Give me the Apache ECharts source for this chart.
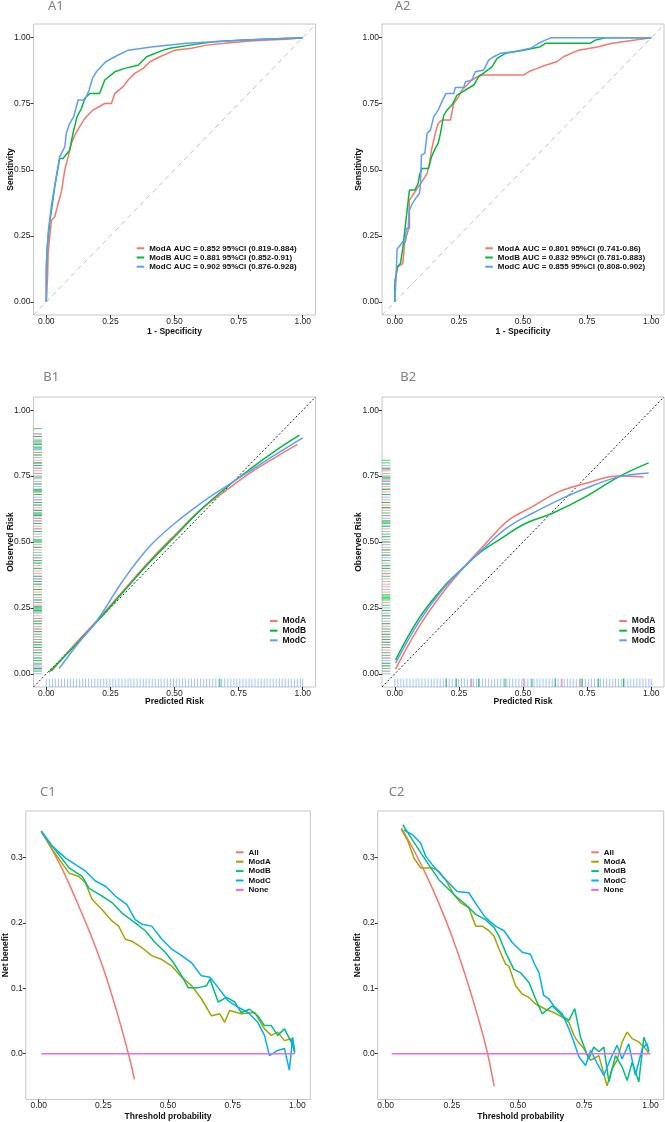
<!DOCTYPE html>
<html>
<head>
<meta charset="utf-8">
<script src="https://cdn.jsdelivr.net/npm/echarts@6/dist/echarts.min.js"></script>
<style>
  html, body { margin: 0; padding: 0; background: #fff; }
  #main { width: 665px; height: 1122px; }
</style>
</head>
<body>
<div id="main"></div>
<script>
// ---- 数据：ROC 曲线 [1-特异度, 灵敏度] ----
var A1_MODA = [[0,0],[0.005,0.1],[0.007,0.183],[0.020,0.309],[0.033,0.322],[0.046,0.372],[0.059,0.417],[0.072,0.499],[0.085,0.549],[0.098,0.600],[0.111,0.631],[0.130,0.663],[0.150,0.694],[0.182,0.726],[0.228,0.751],[0.254,0.751],[0.267,0.789],[0.299,0.814],[0.319,0.840],[0.345,0.865],[0.378,0.884],[0.404,0.909],[0.443,0.928],[0.501,0.953],[0.566,0.960],[0.625,0.972],[0.716,0.981],[0.807,0.989],[0.951,0.995],[1,1]];
var A1_MODB = [[0,0],[0,0.107],[0.003,0.202],[0.013,0.299],[0.033,0.436],[0.052,0.543],[0.065,0.543],[0.091,0.574],[0.098,0.574],[0.104,0.638],[0.120,0.701],[0.137,0.732],[0.150,0.770],[0.169,0.789],[0.208,0.789],[0.228,0.840],[0.267,0.871],[0.306,0.884],[0.358,0.896],[0.391,0.928],[0.456,0.953],[0.482,0.960],[0.560,0.972],[0.651,0.985],[0.768,0.991],[1,1]];
var A1_MODC = [[0,0],[0,0.145],[0.007,0.259],[0.020,0.366],[0.033,0.442],[0.052,0.549],[0.072,0.587],[0.078,0.638],[0.091,0.675],[0.107,0.701],[0.124,0.764],[0.150,0.764],[0.167,0.802],[0.180,0.846],[0.195,0.871],[0.232,0.909],[0.267,0.928],[0.319,0.953],[0.417,0.966],[0.547,0.979],[0.781,0.991],[1,1]];

var A2_MODA = [[0,0],[0,0.082],[0.013,0.133],[0.031,0.145],[0.039,0.227],[0.052,0.271],[0.057,0.385],[0.074,0.410],[0.106,0.455],[0.126,0.486],[0.135,0.524],[0.143,0.574],[0.158,0.638],[0.169,0.675],[0.184,0.688],[0.217,0.688],[0.23,0.751],[0.249,0.777],[0.262,0.802],[0.301,0.840],[0.334,0.859],[0.431,0.859],[0.503,0.859],[0.522,0.871],[0.555,0.884],[0.587,0.896],[0.632,0.909],[0.658,0.928],[0.717,0.953],[0.795,0.966],[0.847,0.979],[0.938,0.991],[1,1]];
var A2_MODB = [[0,0],[0,0.057],[0.009,0.133],[0.022,0.145],[0.031,0.202],[0.039,0.271],[0.057,0.423],[0.078,0.423],[0.091,0.448],[0.096,0.480],[0.106,0.505],[0.132,0.505],[0.143,0.549],[0.158,0.581],[0.169,0.600],[0.178,0.638],[0.191,0.707],[0.204,0.726],[0.223,0.745],[0.243,0.783],[0.275,0.802],[0.308,0.821],[0.327,0.852],[0.353,0.871],[0.379,0.890],[0.399,0.922],[0.431,0.941],[0.503,0.953],[0.568,0.966],[0.587,0.979],[0.762,0.979],[0.782,0.991],[0.821,1.0],[1,1]];
var A2_MODC = [[0,0],[0.003,0.057],[0.009,0.2],[0.022,0.215],[0.029,0.227],[0.042,0.227],[0.044,0.278],[0.057,0.278],[0.057,0.347],[0.068,0.372],[0.081,0.391],[0.096,0.41],[0.1,0.442],[0.104,0.556],[0.117,0.562],[0.126,0.638],[0.139,0.650],[0.152,0.701],[0.169,0.726],[0.184,0.758],[0.2,0.789],[0.23,0.789],[0.236,0.812],[0.269,0.812],[0.275,0.833],[0.301,0.840],[0.314,0.871],[0.347,0.878],[0.366,0.915],[0.386,0.928],[0.412,0.941],[0.464,0.947],[0.529,0.960],[0.561,0.979],[0.587,0.991],[0.610,1.0],[1,1]];

// ---- 校准曲线 [预测风险, 观察风险] ----
var B1_MODA = [[0.02,0.01],[0.1,0.1],[0.2,0.205],[0.3,0.315],[0.4,0.425],[0.5,0.525],[0.6,0.62],[0.7,0.695],[0.8,0.765],[0.9,0.825],[0.98,0.87]];
var B1_MODB = [[0.01,0.006],[0.1,0.095],[0.2,0.2],[0.3,0.31],[0.4,0.42],[0.5,0.52],[0.6,0.62],[0.7,0.705],[0.8,0.78],[0.9,0.85],[0.987,0.905]];
var B1_MODC = [[0.05,0.02],[0.12,0.11],[0.2,0.205],[0.3,0.355],[0.4,0.48],[0.5,0.57],[0.6,0.645],[0.7,0.71],[0.8,0.773],[0.9,0.835],[1.0,0.895]];
var B2_MODA = [[0.003,0.018],[0.094,0.178],[0.184,0.304],[0.275,0.41],[0.366,0.507],[0.444,0.583],[0.535,0.633],[0.639,0.69],[0.743,0.722],[0.873,0.75],[0.97,0.747]];
var B2_MODB = [[0.003,0.053],[0.094,0.21],[0.184,0.323],[0.275,0.41],[0.327,0.456],[0.405,0.507],[0.509,0.57],[0.613,0.608],[0.743,0.671],[0.873,0.747],[0.99,0.80]];
var B2_MODC = [[0.003,0.04],[0.094,0.197],[0.184,0.317],[0.275,0.41],[0.366,0.494],[0.444,0.558],[0.535,0.608],[0.639,0.659],[0.743,0.703],[0.873,0.747],[0.99,0.762]];

// 地毯图刻度
var B1_RUG_Y_A = [0.02,0.03,0.05,0.07,0.09,0.1,0.12,0.13,0.15,0.17,0.18,0.2,0.21,0.22,0.24,0.26,0.27,0.29,0.31,0.32,0.33,0.35,0.36,0.38,0.39,0.41,0.43,0.44,0.47,0.49,0.52,0.54,0.55,0.56,0.58,0.59,0.6,0.62,0.63,0.65,0.66,0.68,0.69,0.72,0.74,0.76,0.77,0.78,0.8,0.81,0.83,0.84,0.87,0.89,0.91];
var B1_RUG_Y_B = [0.01,0.02,0.04,0.05,0.06,0.08,0.1,0.11,0.12,0.14,0.16,0.19,0.2,0.235,0.24,0.245,0.25,0.255,0.28,0.3,0.32,0.34,0.35,0.37,0.4,0.42,0.43,0.45,0.48,0.5,0.505,0.51,0.54,0.57,0.6,0.605,0.61,0.62,0.64,0.65,0.68,0.69,0.695,0.7,0.72,0.75,0.79,0.8,0.83,0.85,0.86,0.87,0.875,0.88,0.9,0.93];
var B1_RUG_Y_C = [0.0,0.015,0.025,0.035,0.06,0.08,0.09,0.11,0.13,0.15,0.16,0.17,0.19,0.21,0.23,0.25,0.27,0.28,0.3,0.32,0.34,0.36,0.37,0.4,0.42,0.44,0.46,0.48,0.5,0.53,0.55,0.57,0.58,0.59,0.6,0.61,0.62,0.64,0.66,0.67,0.7,0.71,0.73,0.745,0.76,0.78,0.79,0.8,0.82,0.84,0.855,0.86,0.885,0.9,0.91];
var B2_RUG_Y_A = [0.02,0.04,0.06,0.08,0.09,0.11,0.12,0.14,0.15,0.17,0.18,0.2,0.22,0.24,0.27,0.31,0.33,0.34,0.36,0.38,0.39,0.42,0.45,0.47,0.48,0.5,0.52,0.55,0.58,0.6,0.62,0.63,0.64,0.66,0.69,0.7,0.71,0.73,0.74,0.76,0.775,0.78];
var B2_RUG_Y_B = [0.01,0.03,0.04,0.07,0.1,0.12,0.13,0.15,0.16,0.19,0.22,0.24,0.26,0.28,0.285,0.29,0.295,0.3,0.37,0.4,0.41,0.43,0.45,0.47,0.5,0.52,0.53,0.56,0.57,0.575,0.58,0.61,0.63,0.65,0.68,0.7,0.72,0.745,0.75,0.78,0.8,0.81];
var B2_RUG_Y_C = [0.0,0.02,0.03,0.05,0.06,0.08,0.11,0.13,0.14,0.17,0.19,0.21,0.23,0.25,0.32,0.35,0.38,0.4,0.41,0.44,0.46,0.49,0.51,0.54,0.56,0.59,0.6,0.63,0.65,0.67,0.68,0.7,0.72,0.73,0.735,0.74,0.77,0.79];
var RUG_X_C = [0,0.012,0.024,0.035,0.047,0.059,0.071,0.083,0.094,0.106,0.118,0.13,0.142,0.153,0.165,0.177,0.189,0.201,0.212,0.224,0.236,0.248,0.26,0.271,0.283,0.295,0.307,0.319,0.33,0.342,0.354,0.366,0.378,0.389,0.401,0.413,0.425,0.437,0.448,0.46,0.472,0.484,0.496,0.507,0.519,0.531,0.543,0.555,0.566,0.578,0.59,0.602,0.614,0.625,0.637,0.649,0.661,0.673,0.684,0.696,0.708,0.72,0.732,0.743,0.755,0.767,0.779,0.791,0.802,0.814,0.826,0.838,0.85,0.861,0.873,0.885,0.897,0.909,0.92,0.932,0.944,0.956,0.968,0.979,0.991,1.0];
var B1_RUG_X_B = [0.677];
var B2_RUG_X_B = [0.2,0.24,0.327,0.43,0.535,0.626,0.73,0.795,0.892];
var B2_RUG_X_A = [0.3,0.503,0.652,0.723];

// ---- 决策曲线 [阈值概率, 净获益] ----
var C1_ALL = [[0.01,0.34],[0.05,0.313],[0.1,0.275],[0.15,0.23],[0.2,0.183],[0.25,0.13],[0.3,0.067],[0.35,-0.005],[0.37,-0.039]];
var C1_NONE = [[0.01,0],[0.99,0]];
var C1_MODA = [[0.01,0.34],[0.053,0.312],[0.117,0.276],[0.155,0.271],[0.181,0.261],[0.206,0.236],[0.245,0.220],[0.283,0.203],[0.309,0.195],[0.335,0.175],[0.36,0.172],[0.399,0.162],[0.437,0.150],[0.476,0.144],[0.514,0.134],[0.553,0.117],[0.591,0.104],[0.629,0.084],[0.668,0.058],[0.700,0.061],[0.719,0.048],[0.738,0.066],[0.783,0.061],[0.835,0.063],[0.873,0.038],[0.899,0.028],[0.924,0.033],[0.95,0.02],[0.976,0.023],[0.99,0.0]];
var C1_MODB = [[0.01,0.34],[0.053,0.317],[0.117,0.284],[0.168,0.271],[0.194,0.253],[0.245,0.241],[0.283,0.231],[0.322,0.215],[0.373,0.200],[0.412,0.188],[0.45,0.170],[0.489,0.155],[0.521,0.139],[0.553,0.119],[0.578,0.101],[0.617,0.101],[0.649,0.104],[0.662,0.114],[0.694,0.079],[0.726,0.086],[0.758,0.079],[0.783,0.063],[0.815,0.068],[0.847,0.058],[0.873,0.043],[0.899,0.043],[0.924,0.028],[0.95,0.038],[0.976,0.018],[0.99,0.005]];
var C1_MODC = [[0.01,0.34],[0.053,0.317],[0.104,0.299],[0.142,0.289],[0.181,0.279],[0.219,0.264],[0.258,0.256],[0.296,0.241],[0.341,0.228],[0.373,0.205],[0.399,0.198],[0.437,0.195],[0.476,0.175],[0.514,0.160],[0.553,0.150],[0.591,0.139],[0.629,0.119],[0.662,0.117],[0.694,0.101],[0.732,0.081],[0.771,0.071],[0.809,0.063],[0.847,0.048],[0.873,0.028],[0.892,-0.003],[0.924,0.005],[0.95,0.008],[0.969,-0.025],[0.982,0.025],[0.99,0.003]];

var C2_ALL = [[0.06,0.345],[0.1,0.316],[0.15,0.276],[0.2,0.231],[0.25,0.18],[0.3,0.121],[0.35,0.054],[0.385,0.0],[0.41,-0.05]];
var C2_NONE = [[0.023,0],[1.0,0]];
var C2_MODA = [[0.059,0.343],[0.082,0.327],[0.107,0.299],[0.132,0.284],[0.176,0.284],[0.201,0.279],[0.226,0.266],[0.258,0.243],[0.283,0.231],[0.314,0.223],[0.34,0.195],[0.365,0.195],[0.390,0.188],[0.409,0.180],[0.428,0.160],[0.453,0.137],[0.465,0.134],[0.491,0.104],[0.516,0.091],[0.541,0.086],[0.566,0.076],[0.604,0.068],[0.635,0.063],[0.667,0.056],[0.692,0.048],[0.711,0.028],[0.723,0.020],[0.748,0.008],[0.774,-0.010],[0.805,-0.003],[0.836,-0.049],[0.855,-0.023],[0.874,-0.010],[0.893,0.018],[0.912,0.033],[0.931,0.023],[0.956,0.018],[0.981,0.008],[0.994,0]];
var C2_MODB = [[0.065,0.35],[0.101,0.327],[0.138,0.304],[0.176,0.281],[0.201,0.266],[0.226,0.256],[0.264,0.241],[0.302,0.228],[0.34,0.213],[0.377,0.205],[0.409,0.193],[0.428,0.180],[0.453,0.155],[0.484,0.129],[0.509,0.124],[0.541,0.109],[0.566,0.084],[0.591,0.061],[0.629,0.073],[0.667,0.058],[0.692,0.051],[0.714,0.069],[0.736,0.025],[0.767,-0.008],[0.786,0.010],[0.805,0.003],[0.824,0.010],[0.843,-0.043],[0.868,-0.003],[0.893,-0.020],[0.912,-0.041],[0.931,-0.013],[0.956,-0.043],[0.975,0.025],[0.994,0.005]];
var C2_MODC = [[0.069,0.342],[0.101,0.335],[0.132,0.322],[0.151,0.302],[0.176,0.289],[0.208,0.274],[0.239,0.261],[0.27,0.248],[0.314,0.246],[0.346,0.226],[0.377,0.208],[0.415,0.195],[0.447,0.188],[0.478,0.170],[0.516,0.155],[0.547,0.152],[0.56,0.139],[0.579,0.124],[0.597,0.089],[0.616,0.084],[0.635,0.073],[0.667,0.061],[0.692,0.038],[0.711,0.018],[0.730,-0.005],[0.755,-0.018],[0.774,0.005],[0.799,-0.015],[0.824,-0.033],[0.849,-0.008],[0.874,0.013],[0.893,-0.008],[0.918,0.015],[0.943,-0.033],[0.969,0.008],[0.987,0.015],[0.994,0.003]];

var TICKS_01 = [0, 0.25, 0.5, 0.75, 1];
var TICKS_NB = [0, 0.1, 0.2, 0.3];
var A1_NAMES = ['ModA AUC = 0.852 95%CI (0.819-0.884)', 'ModB AUC = 0.881 95%CI (0.852-0.91)', 'ModC AUC = 0.902 95%CI (0.876-0.928)'];
var A2_NAMES = ['ModA AUC = 0.801 95%CI (0.741-0.86)', 'ModB AUC = 0.832 95%CI (0.781-0.883)', 'ModC AUC = 0.855 95%CI (0.808-0.902)'];
var B_NAMES = ['ModA', 'ModB', 'ModC'];
var C_NAMES = ['All', 'ModA', 'ModB', 'ModC', 'None'];

var RED = '#F8766D', GREEN = '#00BA38', BLUE = '#619CFF';
var C_COLORS = ['#F8766D', '#A3A500', '#00BF7D', '#00B0F6', '#E76BF3'];
var FONT = '"Liberation Sans", Arial, sans-serif';

var myChart = echarts.init(document.getElementById('main'), null, { renderer: 'canvas' });

// 六个面板的位置
var grids = [
  { left: 33.5, top: 24, width: 282, height: 291 },
  { left: 382, top: 24, width: 282, height: 291 },
  { left: 33.5, top: 397, width: 282, height: 290 },
  { left: 382, top: 397, width: 282, height: 290 },
  { left: 23.3, top: 811, width: 287, height: 290 },
  { left: 377.7, top: 811, width: 286, height: 290 }
].map(function (g) {
  return Object.assign({ show: true, borderColor: '#c6c6c6', borderWidth: 1, backgroundColor: '#fff' }, g);
});

function xAxis(idx, min, max, ticks, name, nameGap, digits) {
  return {
    type: 'value', gridIndex: idx, min: min, max: max,
    name: name, nameLocation: 'middle', nameGap: nameGap, nameMoveOverlap: false,
    nameTextStyle: { fontFamily: FONT, fontSize: 8.5, fontWeight: 'bold', color: '#111' },
    axisLine: { show: false, onZero: false },
    axisTick: { show: true, length: 3, customValues: ticks, lineStyle: { color: '#333' } },
    axisLabel: { customValues: ticks, margin: 2, fontFamily: FONT, fontSize: 8.5, color: '#222',
      formatter: function (v) { return v.toFixed(digits); } },
    splitLine: { show: false }
  };
}
function yAxis(idx, min, max, ticks, name, nameGap, digits) {
  var a = xAxis(idx, min, max, ticks, name, nameGap, digits);
  a.axisLabel.margin = 3;
  return a;
}

var xAxes = [
  xAxis(0, -0.05, 1.05, TICKS_01, '1 - Specificity', 12, 2),
  xAxis(1, -0.05, 1.05, TICKS_01, '1 - Specificity', 12, 2),
  xAxis(2, -0.05, 1.05, TICKS_01, 'Predicted Risk', 10.5, 2),
  xAxis(3, -0.05, 1.05, TICKS_01, 'Predicted Risk', 10.5, 2),
  xAxis(4, -0.05, 1.05, TICKS_01, 'Threshold probability', 12.5, 2),
  xAxis(5, -0.03, 1.05, TICKS_01, 'Threshold probability', 12.5, 2)
];
var yAxes = [
  yAxis(0, -0.05, 1.052, TICKS_01, 'Sensitivity', 18.5, 2),
  yAxis(1, -0.05, 1.052, TICKS_01, 'Sensitivity', 19, 2),
  yAxis(2, -0.05, 1.05, TICKS_01, 'Observed Risk', 18.5, 2),
  yAxis(3, -0.05, 1.05, TICKS_01, 'Observed Risk', 19, 2),
  yAxis(4, -0.07, 0.371, TICKS_NB, 'Net benefit', 15.8, 1),
  yAxis(5, -0.07, 0.371, TICKS_NB, 'Net benefit', 15.7, 1)
];

function line(name, data, color, idx, extra) {
  return Object.assign({
    type: 'line', name: name, data: data, xAxisIndex: idx, yAxisIndex: idx,
    symbol: 'none', showSymbol: false, silent: true, animation: false, z: 3,
    lineStyle: { color: color, width: 1.5 }, itemStyle: { color: color }
  }, extra || {});
}
function diag(idx, color, type) {
  return {
    type: 'line', data: [[-0.05, -0.05], [1.05, 1.05]], xAxisIndex: idx, yAxisIndex: idx,
    symbol: 'none', silent: true, animation: false, z: 2,
    lineStyle: { color: color, width: 1, type: type }
  };
}
function rug(vals, side, color, idx) {
  return {
    type: 'custom', xAxisIndex: idx, yAxisIndex: idx, silent: true, animation: false, clip: false, z: 1,
    data: vals.map(function (v) { return side === 'left' ? [-0.05, v] : [v, -0.05]; }),
    renderItem: function (params, api) {
      var p = api.coord([api.value(0), api.value(1)]);
      var shape = side === 'left'
        ? { x1: p[0], y1: p[1], x2: p[0] + 8.4, y2: p[1] }
        : { x1: p[0], y1: p[1], x2: p[0], y2: p[1] - 8.4 };
      return { type: 'line', shape: shape, style: { stroke: color, lineWidth: 1 } };
    }
  };
}

var series = [
  diag(0, '#c4c4c4', [5, 4]), diag(1, '#c4c4c4', [5, 4]),
  line(A1_NAMES[0], A1_MODA, RED, 0), line(A1_NAMES[1], A1_MODB, GREEN, 0), line(A1_NAMES[2], A1_MODC, BLUE, 0),
  line(A2_NAMES[0], A2_MODA, RED, 1), line(A2_NAMES[1], A2_MODB, GREEN, 1), line(A2_NAMES[2], A2_MODC, BLUE, 1),

  rug(B1_RUG_Y_C, 'left', 'rgba(97,156,255,0.65)', 2), rug(B1_RUG_Y_A, 'left', 'rgba(248,118,109,0.65)', 2), rug(B1_RUG_Y_B, 'left', 'rgba(0,186,56,0.7)', 2),
  rug(RUG_X_C, 'bottom', 'rgba(97,156,255,0.6)', 2), rug(B1_RUG_X_B, 'bottom', 'rgba(0,186,56,0.85)', 2),
  rug(B2_RUG_Y_C, 'left', 'rgba(97,156,255,0.65)', 3), rug(B2_RUG_Y_A, 'left', 'rgba(248,118,109,0.65)', 3), rug(B2_RUG_Y_B, 'left', 'rgba(0,186,56,0.7)', 3),
  rug(RUG_X_C, 'bottom', 'rgba(97,156,255,0.6)', 3), rug(B2_RUG_X_B, 'bottom', 'rgba(0,186,56,0.85)', 3), rug(B2_RUG_X_A, 'bottom', 'rgba(248,118,109,0.85)', 3),
  diag(2, '#222', [2, 2]), diag(3, '#222', [2, 2]),
  line('ModA', B1_MODA, RED, 2, { smooth: 0.4 }), line('ModB', B1_MODB, GREEN, 2, { smooth: 0.4 }), line('ModC', B1_MODC, BLUE, 2, { smooth: 0.4 }),
  line('ModA', B2_MODA, RED, 3, { smooth: 0.4 }), line('ModB', B2_MODB, GREEN, 3, { smooth: 0.4 }), line('ModC', B2_MODC, BLUE, 3, { smooth: 0.4 }),

  line('All', C1_ALL, C_COLORS[0], 4, { smooth: 0.3 }), line('ModA', C1_MODA, C_COLORS[1], 4), line('ModB', C1_MODB, C_COLORS[2], 4),
  line('ModC', C1_MODC, C_COLORS[3], 4), line('None', C1_NONE, C_COLORS[4], 4),
  line('All', C2_ALL, C_COLORS[0], 5, { smooth: 0.3 }), line('ModA', C2_MODA, C_COLORS[1], 5), line('ModB', C2_MODB, C_COLORS[2], 5),
  line('ModC', C2_MODC, C_COLORS[3], 5), line('None', C2_NONE, C_COLORS[4], 5)
];

function legend(names, colors, left, top, fontSize, lh) {
  return {
    orient: 'vertical', left: left, top: top, padding: 0, itemGap: 0,
    icon: 'rect', itemWidth: 7.5, itemHeight: 2, selectedMode: false,
    textStyle: { fontFamily: FONT, fontSize: fontSize, fontWeight: 'bold', color: '#111', lineHeight: lh },
    data: names.map(function (n, i) { return { name: n, itemStyle: { color: colors[i] } }; })
  };
}
var ABC = [RED, GREEN, BLUE];

function title(text, x, y) {
  return { type: 'text', x: x, y: y, silent: true,
    style: { text: text, fontFamily: '"Noto Sans", sans-serif', fontSize: 13, fill: '#808080', textVerticalAlign: 'middle' } };
}

var option = {
  backgroundColor: '#fff',
  animation: false,
  grid: grids,
  xAxis: xAxes,
  yAxis: yAxes,
  legend: [
    legend(A1_NAMES, ABC, 136.7, 243.7, 8, 9.2),
    legend(A2_NAMES, ABC, 485.3, 243.7, 8, 9.2),
    legend(B_NAMES, ABC, 270, 616.2, 8.5, 9.65),
    legend(B_NAMES, ABC, 619.3, 616.2, 8.5, 9.65),
    legend(C_NAMES, C_COLORS, 236, 847.6, 8, 9.4),
    legend(C_NAMES, C_COLORS, 591.3, 847.6, 8, 9.4)
  ],
  graphic: [
    title('A1', 48, 6.5), title('A2', 394.7, 6.5),
    title('B1', 43.3, 377), title('B2', 400.3, 377),
    title('C1', 40, 792), title('C2', 388.7, 792)
  ],
  series: series
};

myChart.setOption(option);
</script>
</body>
</html>
